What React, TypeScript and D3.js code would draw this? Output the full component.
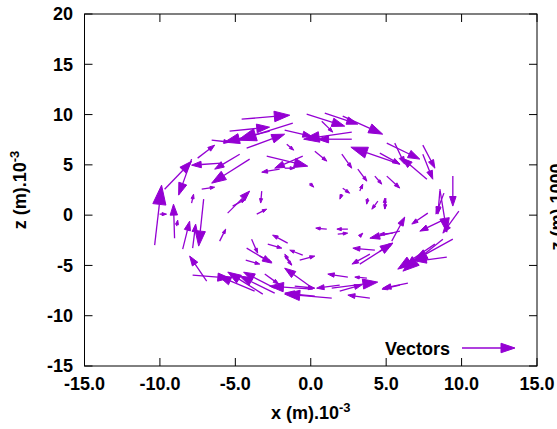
import React from 'react';
import * as d3 from 'd3';

// Vector field samples: position (x, z) in mm and vector components (dx, dz) in plot units
const xs = [
  -4.58, -5.38, -0.27, 0.93, 2.12, 0.73, 2.72, 2.72, -1.73, -4.25,
  -1.19, -2.72, -6.57, -1.59, 5.91, 5.04, 5.57, 4.58, 7.43, 7.43,
  7.70, -4.71, -4.05, -5.91, -7.50, -9.69, -7.90, -10.35, -9.03, -8.49,
  -7.83, -7.10, -10.02, -7.90, -7.23, -8.89, -6.90, -6.04, -5.51, -5.18,
  -3.25, -3.58, -3.92, -4.25, -4.31, -3.38, -1.73, -0.73, -2.85, -1.53,
  -0.53, -1.26, -2.92, -0.53, -2.06, -1.73, 0.27, 2.06, 3.12, 4.25,
  5.04, -0.07, 2.12, 2.06, 3.25, 3.78, 4.45, 4.98, 1.06, 2.46,
  1.79, 3.25, 5.91, 5.37, 4.25, 3.92, 3.25, 4.58, 5.44, 4.91,
  9.42, 8.56, 8.83, 8.56, 9.82, 7.76, 8.76, 9.42, 8.76, 8.23,
  9.02, 6.44, 0.13, 2.46, 3.72, -3.05, -2.39, -3.18, -3.72, -2.39,
  0.13, 0.27, -1.06, -7.83, 1.92, 1.39, 1.92, 1.39, 3.92, 5.91,
];
const zs = [
  9.54, 8.35, 10.04, 10.14, 9.84, 9.34, 8.25, 7.55, 8.45, 6.66,
  9.14, 8.35, 7.46, 7.06, 5.07, 7.16, 7.16, 6.16, 6.96, 6.06,
  3.58, 6.06, 5.57, 5.17, 5.67, 2.58, 5.57, -2.98, -2.29, -3.38,
  -3.28, 1.59, 0.10, 1.19, 2.58, -1.09, -6.56, -2.58, 0.20, 0.89,
  2.39, 0.10, -2.39, -3.28, -4.47, -4.08, -4.08, -4.47, -2.88, -2.78,
  -3.98, -4.97, 5.86, 5.86, 4.57, 4.67, 6.36, 6.06, 4.57, 3.88,
  3.88, 3.18, 2.68, 2.09, 2.39, 1.69, 1.39, 1.69, -1.39, -1.39,
  -1.89, -2.09, -1.59, -2.58, -3.48, -3.88, -4.87, -3.58, -1.79, 0.60,
  3.88, 2.39, 2.19, 2.58, 0.40, 0.20, -0.50, -2.39, -2.39, -2.88,
  -4.18, -6.76, -7.26, -6.16, -6.26, -5.86, -7.75, -7.85, -7.55, -7.26,
  -7.36, -8.05, -7.06, -5.96, -6.96, -7.26, -7.55, -8.25, -8.25, -6.96,
];
const dxs = [
  3.19, 2.65, 2.52, 2.19, 2.65, 0.73, -3.19, -2.26, 1.79, 2.52,
  -3.65, -2.99, 1.19, 0.46, -3.25, 2.19, 0.66, 1.33, 0.80, 0.66,
  -1.66, -1.66, -2.52, -1.99, 1.13, 1.79, -0.86, 0.46, -0.07, 0.46,
  0.20, -0.33, 0.46, 0.13, 0.86, 0.07, -1.13, 0.40, 1.46, 0.86,
  -0.07, 0.66, 0.40, 1.66, 0.93, 0.80, 0.46, 1.00, 0.93, -1.00,
  -0.86, -0.46, 2.72, -1.86, -1.19, 0.66, 0.80, 0.66, 0.60, 0.46,
  0.86, 0.27, 0.46, -0.13, 0.20, -0.07, -0.40, -0.07, -0.73, -0.73,
  0.66, 0.20, -1.99, 0.86, -1.46, -1.19, 2.19, 0.86, -0.86, 0.00,
  0.00, -0.13, -0.53, 0.46, -1.06, -1.06, -1.53, -2.65, -2.65, -2.46,
  -1.99, -1.66, -1.86, -1.33, -0.80, 0.93, -2.32, -2.32, -2.39, -2.06,
  -2.85, -1.99, 1.33, 2.46, -1.53, 3.05, 1.46, -3.12, -1.46, -1.19,
];
const dzs = [
  0.40, 0.40, -1.19, -1.09, -1.79, -1.09, -0.70, 0.00, -0.60, 1.39,
  -1.69, -1.09, -0.20, -0.60, 1.69, -1.59, -2.09, -1.09, -2.29, -2.49,
  2.09, -1.49, -2.39, -0.20, 1.29, 2.78, -3.58, 5.96, 3.38, 2.78,
  2.39, -4.67, 0.00, 0.89, 0.20, 0.60, 2.49, 1.19, 2.19, 0.70,
  -1.19, 0.50, -1.39, -1.49, -0.40, -0.60, -0.89, 0.40, -0.40, 0.80,
  0.50, 1.09, -0.99, -1.19, -0.30, 0.00, -0.99, -1.39, -1.19, -0.80,
  -1.19, -0.40, -0.50, -0.50, 0.70, -0.60, -0.80, -1.09, 0.10, 0.00,
  0.10, 0.30, -0.70, 2.39, 0.20, -0.99, 2.09, 0.80, -0.10, 1.09,
  -2.98, -2.29, -2.09, -4.27, -2.19, -1.09, -1.09, -2.19, -3.18, -2.49,
  -0.40, -0.50, 1.99, 0.30, 0.10, -0.99, 1.69, 2.19, 1.49, 1.59,
  0.30, 0.30, -0.20, -0.30, -0.30, 0.60, 0.60, 0.40, 0.30, -0.40,
];

const xTicks = [-15, -10, -5, 0, 5, 10, 15];
const yTicks = [-15, -10, -5, 0, 5, 10, 15, 20];
const legendLabel = 'Vectors';

const COLOR = '#9400d3';
const FONT = '"Liberation Sans", Arial, Helvetica, sans-serif';

function arrowParts(x0: number, y0: number, x1: number, y1: number, fixedHead?: number) {
  const ddx = x1 - x0;
  const ddy = y1 - y0;
  const len = Math.hypot(ddx, ddy) || 1;
  const ux = ddx / len;
  const uy = ddy / len;
  const hl = fixedHead ?? Math.max(4.5, 0.32 * len);
  const hw = hl * 0.34;
  const bx = x1 - ux * hl;
  const by = y1 - uy * hl;
  const nx = -uy;
  const ny = ux;
  const head = `M${x1},${y1}L${bx + nx * hw},${by + ny * hw}L${bx - nx * hw},${by - ny * hw}Z`;
  return { line: `M${x0},${y0}L${bx},${by}`, head };
}

export default function App() {
  const W = 557;
  const H = 429;
  const left = 84.5;
  const right = 537;
  const top = 14;
  const bottom = 366;
  const x = d3.scaleLinear().domain([-15, 15]).range([left, right]);
  const y = d3.scaleLinear().domain([-15, 20]).range([bottom, top]);
  const tl = 8;

  const arrows = xs.map((xv, i) => {
    const x0 = x(xv);
    const y0 = y(zs[i]);
    const x1 = x(xv + dxs[i]);
    const y1 = y(zs[i] + dzs[i]);
    return arrowParts(x0, y0, x1, y1);
  });

  const leg = arrowParts(462, 348, 515, 348, 14);

  return (
    <svg
      width={W}
      height={H}
      viewBox={`0 0 ${W} ${H}`}
      style={{ position: 'absolute', left: 0, top: 0, background: '#fff' }}
    >
      <rect x={0} y={0} width={W} height={H} fill="#fff" />
      <g stroke="#000" strokeWidth={1}>
        {xTicks.map((t) => (
          <g key={'xt' + t}>
            <line x1={x(t)} x2={x(t)} y1={bottom} y2={bottom - tl} />
            <line x1={x(t)} x2={x(t)} y1={top} y2={top + tl} />
          </g>
        ))}
        {yTicks.map((t) => (
          <g key={'yt' + t}>
            <line x1={left} x2={left + tl} y1={y(t)} y2={y(t)} />
            <line x1={right} x2={right - tl} y1={y(t)} y2={y(t)} />
          </g>
        ))}
      </g>
      <g>
        {arrows.map((a, i) => (
          <g key={i}>
            <path d={a.line} stroke={COLOR} strokeWidth={1.3} fill="none" />
            <path d={a.head} fill={COLOR} stroke={COLOR} strokeWidth={1} strokeLinejoin="miter" />
          </g>
        ))}
      </g>
      <text x={450} y={355} textAnchor="end" fontFamily={FONT} fontWeight="bold" fontSize={18} fill="#000">
        {legendLabel}
      </text>
      <path d={leg.line} stroke={COLOR} strokeWidth={1.3} fill="none" />
      <path d={leg.head} fill={COLOR} stroke={COLOR} strokeWidth={1} />
      <rect x={left} y={top} width={right - left} height={bottom - top} fill="none" stroke="#000" strokeWidth={1} />
      <g fontFamily={FONT} fontWeight="bold" fontSize={18} fill="#000">
        {xTicks.map((t) => (
          <text key={'xl' + t} x={x(t)} y={390} textAnchor="middle">
            {t.toFixed(1)}
          </text>
        ))}
        {yTicks.map((t) => (
          <text key={'yl' + t} x={73} y={y(t)} dy="0.35em" textAnchor="end">
            {String(t)}
          </text>
        ))}
        <text x={(left + right) / 2} y={419} textAnchor="middle">
          x (m).10<tspan dy={-7} fontSize={13}>-3</tspan>
        </text>
        <text transform={`translate(26,${(top + bottom) / 2}) rotate(-90)`} textAnchor="middle">
          z (m).10<tspan dy={-7} fontSize={13}>-3</tspan>
        </text>
        <text transform={`translate(563,207) rotate(-90)`} textAnchor="middle">
          z (m).1000
        </text>
      </g>
    </svg>
  );
}
